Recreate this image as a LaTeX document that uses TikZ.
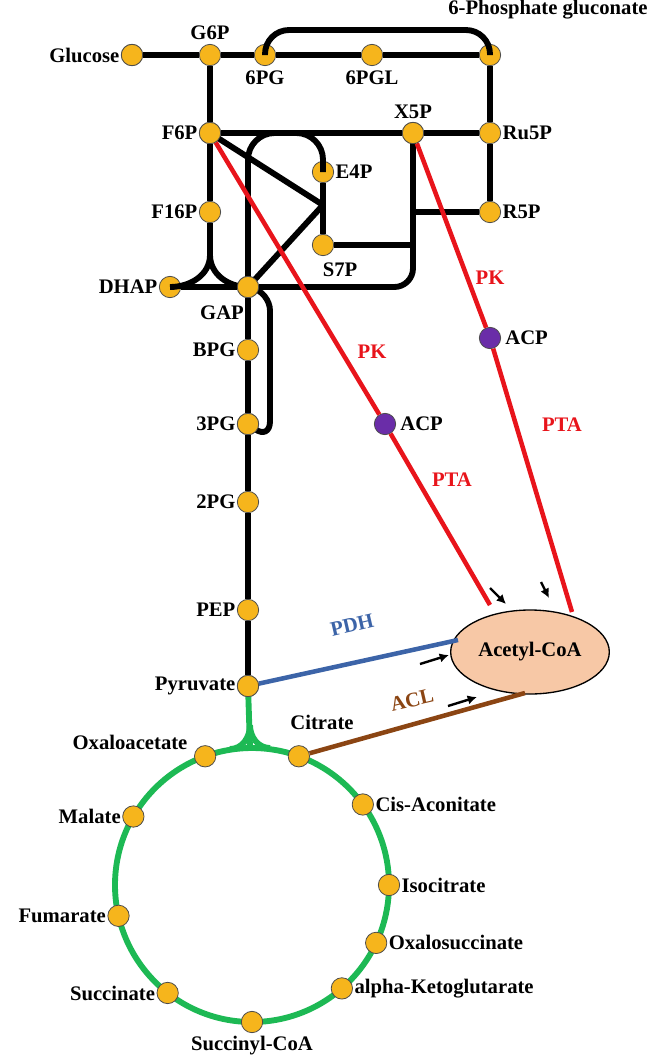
\documentclass[tikz,border=0pt]{standalone}
\usepackage{fontspec}
\setmainfont{Liberation Serif}
\usetikzlibrary{arrows.meta, shapes.geometric, calc}
\definecolor{dotfill}{HTML}{F6B51C}
\definecolor{pkred}{HTML}{E8141B}
\definecolor{pdhblue}{HTML}{3C64A8}
\definecolor{aclbrown}{HTML}{8B4513}
\definecolor{tcagreen}{HTML}{1DB954}
\definecolor{acpurple}{HTML}{6A2DA8}
\definecolor{coafill}{HTML}{F7C8A6}
\tikzset{
  met/.style={circle, draw=black!70, fill=dotfill, line width=0.6pt, minimum size=16pt, inner sep=0pt},
  acp/.style={circle, draw=black!70, fill=acpurple, line width=0.6pt, minimum size=16pt, inner sep=0pt},
  lbl/.style={font=\bfseries\fontsize{15.5}{18}\selectfont, inner sep=1pt},
  path/.style={line width=4.4pt, black, rounded corners=14pt},
  enz/.style={line width=3.4pt},
  cue/.style={-{Latex[length=7pt,width=7pt]}, line width=1.8pt}
}
\begin{document}
\begin{tikzpicture}[x=0.75pt, y=-0.75pt]
    \useasboundingbox (0,0) rectangle (650,1058);
    % Metabolite dots
    \node[met] (GLC) at (132,55) {};
    \node[met] (G6P) at (210,55) {};
    \node[met] (PG6) at (265,55) {};
    \node[met] (PGL) at (372,55) {};
    \node[met] (PGC) at (490,55) {};
    \node[met] (F6P) at (210,133) {};
    \node[met] (X5P) at (413,133) {};
    \node[met] (RU5P) at (490,133) {};
    \node[met] (E4P) at (323,172) {};
    \node[met] (F16P) at (210,212) {};
    \node[met] (R5P) at (490,212) {};
    \node[met] (S7P) at (323,245) {};
    \node[met] (DHAP) at (170,287) {};
    \node[met] (GAP) at (248,287) {};
    \node[met] (BPG) at (248,350) {};
    \node[met] (PG3) at (248,424) {};
    \node[met] (PG2) at (248,502) {};
    \node[met] (PEP) at (248,610) {};
    \node[met] (PYR) at (248,686) {};
    \coordinate (TCA) at (252,885);
    \coordinate (mid) at (323,205);

    % Black pathway lines
    \draw[path] (GLC) -- (G6P) -- (PG6) -- (PGL) -- (PGC);
    \draw[path, rounded corners=18pt] (PG6.center) -- (265,30) -- (490,30) -- (PGC.center);
    \draw[path] (PGC) -- (RU5P) -- (R5P);
    \draw[path] (G6P) -- (F6P) -- (X5P) -- (RU5P);
    \draw[path] (F6P) -- (F16P) -- (210,255);
    \draw[line width=4.4pt] (210,255) to[out=-90,in=0] (DHAP.center);
    \draw[line width=4.4pt] (210,255) to[out=-90,in=180] (GAP.center);
    \draw[path] (DHAP) -- (GAP) -- (413,287) -- (X5P.center);
    \draw[path] (413,212) -- (R5P);
    \draw[path] (S7P) -- (413,245);
    \draw[path, rounded corners=20pt] (GAP.center) -- (248,133) -- (323,133) -- (E4P.center);
    \draw[path] (E4P) -- (S7P);
    \draw[line width=4.4pt, line join=round] (F6P.center) -- (mid) -- (GAP.center);
    \draw[path] (GAP.center) -- (270,292) -- (270,440) -- (PG3.center);
    \draw[path] (GAP) -- (BPG) -- (PG3) -- (PG2) -- (PEP) -- (PYR);

    % TCA cycle
    \draw[line width=4.4pt, tcagreen] (TCA) circle[radius=137];
    \draw[line width=4.4pt, tcagreen, rounded corners=16pt] (PYR.center) -- (250,748);
    \draw[line width=4.4pt, tcagreen] (250,725) to[out=-90,in=180] (270,748);
    \draw[line width=4.4pt, tcagreen] (250,725) to[out=-90,in=0] (230,749);

    % Acetyl-CoA and branches
    \node[ellipse, draw, fill=coafill, line width=1pt, minimum width=112pt, minimum height=63pt, font=\bfseries\fontsize{15.5}{18}\selectfont] (COA) at (530,652) {Acetyl-CoA};
    \node[acp] (ACP1) at (385,424) {};
    \node[acp] (ACP2) at (490,338) {};
    \draw[enz, pkred] (F6P) -- (ACP1) -- (490,605);
    \draw[enz, pkred] (X5P) -- (ACP2) -- (572,612);
    \draw[enz, pdhblue] (PYR) -- (458,640);
    \node[met] (CIT) at ($(TCA)+(-70:137)$) {};
    \draw[enz, aclbrown] (CIT) -- (525,693);
    \node[met] (GLC) at (132,55) {};
    \node[met] (PYR) at (248,686) {};
    \node[met] (F6P) at (210,133) {};
    \node[met] (X5P) at (413,133) {};
    \node[met] (GAP) at (248,287) {};
    \node[met] (PG3) at (248,424) {};

    % TCA dots
    \node[met] (OAA) at ($(TCA)+(-110:137)$) {};
    \node[met] (MAL) at ($(TCA)+(-150:137)$) {};
    \node[met] (FUM) at ($(TCA)+(-193:137)$) {};
    \node[met] (SUC) at ($(TCA)+(-232:137)$) {};
    \node[met] (SCOA) at ($(TCA)+(-270:137)$) {};
    \node[met] (AKG) at ($(TCA)+(-311:137)$) {};
    \node[met] (OXS) at ($(TCA)+(-335:137)$) {};
    \node[met] (ICT) at ($(TCA)+(0:137)$) {};
    \node[met] (CAC) at ($(TCA)+(-36:137)$) {};

    % Small arrows
    \coordinate (a1) at (490,588); \coordinate (b1) at (506,604);
    \coordinate (a2) at (541,582); \coordinate (b2) at (549,598);
    \coordinate (a3) at (420,664); \coordinate (b3) at (449,655);
    \coordinate (a4) at (448,706); \coordinate (b4) at (477,697);
    \draw[cue] (a1) -- (b1);
    \draw[cue] (a2) -- (b2);
    \draw[cue] (a3) -- (b3);
    \draw[cue] (a4) -- (b4);

    % Labels
    \node[lbl, left] at (GLC.west) {Glucose};
    \node[lbl, above=2pt] at (G6P.north) {G6P};
    \node[lbl, below=2pt] at (PG6.south) {6PG};
    \node[lbl, below=2pt] at (PGL.south) {6PGL};
    \node[lbl] at (548,10) {6-Phosphate gluconate};
    \node[lbl, left] at (F6P.west) {F6P};
    \node[lbl, above=1pt] at (X5P.north) {X5P};
    \node[lbl, right] at (RU5P.east) {Ru5P};
    \node[lbl, right] at (E4P.east) {E4P};
    \node[lbl, left] at (F16P.west) {F16P};
    \node[lbl, right] at (R5P.east) {R5P};
    \node[lbl] at (340,270) {S7P};
    \node[lbl, left] at (DHAP.west) {DHAP};
    \node[lbl] at (222,313) {GAP};
    \node[lbl, left] at (BPG.west) {BPG};
    \node[lbl, left] at (PG3.west) {3PG};
    \node[lbl, left] at (PG2.west) {2PG};
    \node[lbl, left] at (PEP.west) {PEP};
    \node[lbl, left] at (PYR.west) {Pyruvate};
    \node[lbl] at (322,722) {Citrate};
    \node[lbl] at (130,742) {Oxaloacetate};
    \node[lbl, left] at (MAL.west) {Malate};
    \node[lbl, left] at (FUM.west) {Fumarate};
    \node[lbl, left] at (SUC.west) {Succinate};
    \node[lbl, below=1pt] at (SCOA.south) {Succinyl-CoA};
    \node[lbl, right] at (AKG.east) {alpha-Ketoglutarate};
    \node[lbl, right] at (OXS.east) {Oxalosuccinate};
    \node[lbl, right] at (ICT.east) {Isocitrate};
    \node[lbl, right] at (CAC.east) {Cis-Aconitate};
    \node[lbl, pkred] at (372,352) {PK};
    \node[lbl, right=2pt] at (ACP1.east) {ACP};
    \node[lbl, pkred] at (452,480) {PTA};
    \node[lbl, pkred] at (490,278) {PK};
    \node[lbl, right=2pt] at (ACP2.east) {ACP};
    \node[lbl, pkred] at (562,425) {PTA};
    \node[lbl, pdhblue, rotate=13] at (352,625) {PDH};
    \node[lbl, aclbrown, rotate=13] at (412,700) {ACL};
\end{tikzpicture}
\end{document}
